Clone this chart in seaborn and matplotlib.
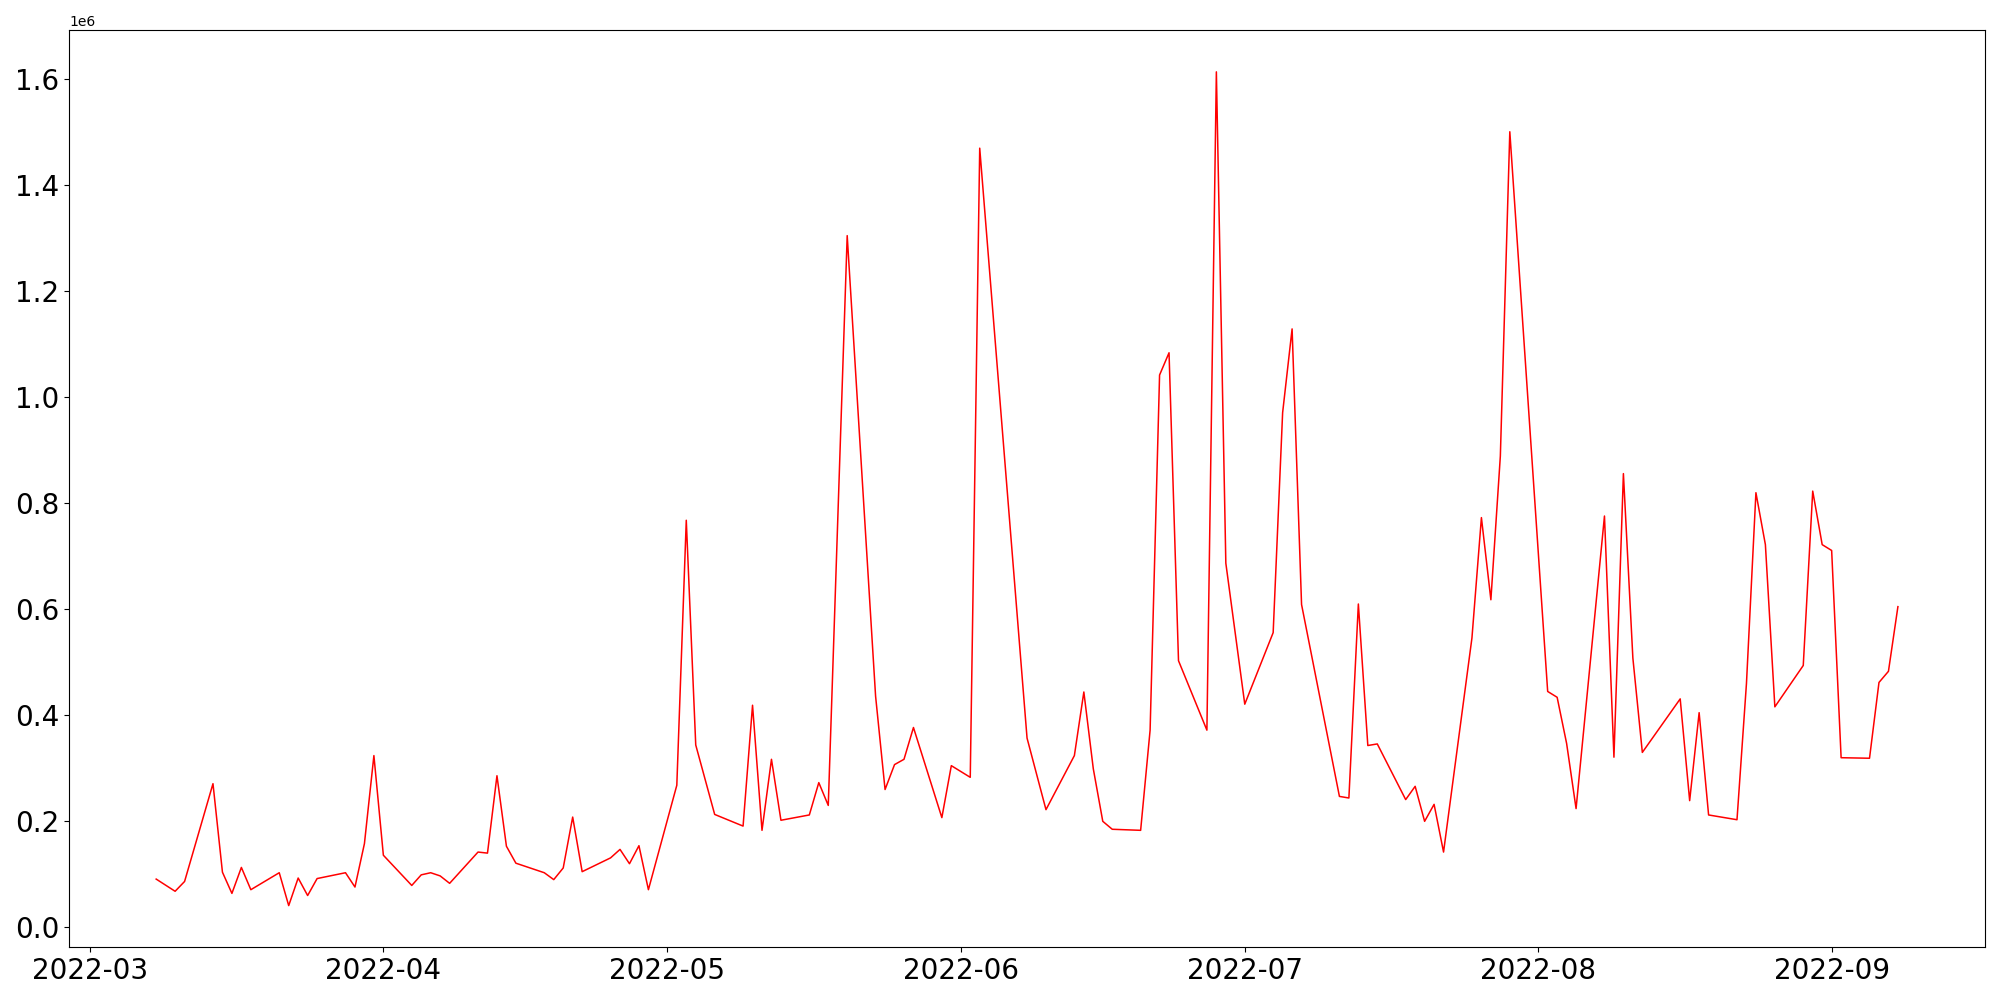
import pandas as pd
import seaborn as sns
import matplotlib.pyplot as plt

# dati (valori in milioni)
dates = [
    '2022-03-08', '2022-03-10', '2022-03-11', '2022-03-14', '2022-03-15', '2022-03-16',
    '2022-03-17', '2022-03-18', '2022-03-21', '2022-03-22', '2022-03-23', '2022-03-24',
    '2022-03-25', '2022-03-28', '2022-03-29', '2022-03-30', '2022-03-31', '2022-04-01',
    '2022-04-04', '2022-04-05', '2022-04-06', '2022-04-07', '2022-04-08', '2022-04-11',
    '2022-04-12', '2022-04-13', '2022-04-14', '2022-04-15', '2022-04-18', '2022-04-19',
    '2022-04-20', '2022-04-21', '2022-04-22', '2022-04-25', '2022-04-26', '2022-04-27',
    '2022-04-28', '2022-04-29', '2022-05-02', '2022-05-03', '2022-05-04', '2022-05-06',
    '2022-05-09', '2022-05-10', '2022-05-11', '2022-05-12', '2022-05-13', '2022-05-16',
    '2022-05-17', '2022-05-18', '2022-05-20', '2022-05-23', '2022-05-24', '2022-05-25',
    '2022-05-26', '2022-05-27', '2022-05-30', '2022-05-31', '2022-06-02', '2022-06-03',
    '2022-06-08', '2022-06-10', '2022-06-13', '2022-06-14', '2022-06-15', '2022-06-16',
    '2022-06-17', '2022-06-20', '2022-06-21', '2022-06-22', '2022-06-23', '2022-06-24',
    '2022-06-27', '2022-06-28', '2022-06-29', '2022-07-01', '2022-07-04', '2022-07-05',
    '2022-07-06', '2022-07-07', '2022-07-11', '2022-07-12', '2022-07-13', '2022-07-14',
    '2022-07-15', '2022-07-18', '2022-07-19', '2022-07-20', '2022-07-21', '2022-07-22',
    '2022-07-25', '2022-07-26', '2022-07-27', '2022-07-28', '2022-07-29', '2022-08-02',
    '2022-08-03', '2022-08-04', '2022-08-05', '2022-08-08', '2022-08-09', '2022-08-10',
    '2022-08-11', '2022-08-12', '2022-08-16', '2022-08-17', '2022-08-18', '2022-08-19',
    '2022-08-22', '2022-08-23', '2022-08-24', '2022-08-25', '2022-08-26', '2022-08-29',
    '2022-08-30', '2022-08-31', '2022-09-01', '2022-09-02', '2022-09-05', '2022-09-06',
    '2022-09-07', '2022-09-08',
]
values_m = [
    0.090, 0.067, 0.0855, 0.270, 0.103, 0.063,
    0.112, 0.070, 0.102, 0.040, 0.092, 0.059,
    0.091, 0.102, 0.075, 0.157, 0.323, 0.135,
    0.078, 0.098, 0.102, 0.096, 0.082, 0.141,
    0.139, 0.285, 0.152, 0.120, 0.102, 0.089,
    0.111, 0.207, 0.104, 0.130, 0.146, 0.119,
    0.153, 0.070, 0.267, 0.767, 0.343, 0.212,
    0.190, 0.418, 0.182, 0.316, 0.201, 0.211,
    0.272, 0.229, 1.304, 0.435, 0.259, 0.306,
    0.316, 0.376, 0.206, 0.304, 0.282, 1.469,
    0.356, 0.221, 0.323, 0.443, 0.298, 0.199,
    0.184, 0.182, 0.371, 1.041, 1.083, 0.502,
    0.371, 1.613, 0.686, 0.420, 0.555, 0.970,
    1.128, 0.608, 0.246, 0.243, 0.609, 0.342,
    0.345, 0.240, 0.265, 0.199, 0.231, 0.141,
    0.545, 0.772, 0.617, 0.888, 1.500, 0.444,
    0.433, 0.346, 0.223, 0.775, 0.320, 0.855,
    0.507, 0.329, 0.430, 0.238, 0.404, 0.211,
    0.202, 0.459, 0.819, 0.721, 0.415, 0.493,
    0.822, 0.721, 0.710, 0.319, 0.318, 0.461,
    0.482, 0.604,
]

df = pd.DataFrame({'date': pd.to_datetime(dates),
                   'value': [v * 1e6 for v in values_m]})

plt.figure(figsize=(20, 10), dpi=100)
ax = sns.lineplot(x='date', y='value', data=df, color='red', linewidth=1.1)

ax.set_xlabel('')
ax.set_ylabel('')
ax.tick_params(axis='both', labelsize=20)

plt.tight_layout()
plt.savefig('out.png')
